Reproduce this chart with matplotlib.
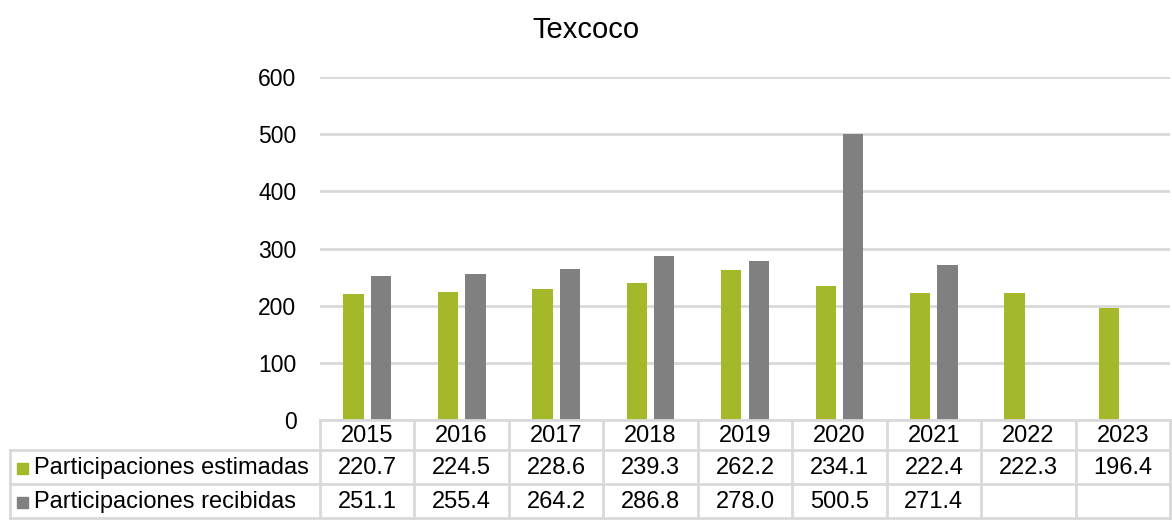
import matplotlib
matplotlib.use("Agg")
import matplotlib.pyplot as plt
import numpy as np
from matplotlib.transforms import blended_transform_factory
from matplotlib.lines import Line2D
from matplotlib.patches import Rectangle

plt.rcParams['font.family'] = ['Liberation Sans', 'DejaVu Sans']

years = ["2015", "2016", "2017", "2018", "2019", "2020", "2021", "2022", "2023"]
estimadas = [220.7, 224.5, 228.6, 239.3, 262.2, 234.1, 222.4, 222.3, 196.4]
recibidas = [251.1, 255.4, 264.2, 286.8, 278.0, 500.5, 271.4, None, None]
series_names = ["Participaciones estimadas", "Participaciones recibidas"]
colors = ["#A5B82A", "#808080"]
yticks = [0, 100, 200, 300, 400, 500, 600]

W, H = 1172, 520
fig = plt.figure(figsize=(W / 100, H / 100), dpi=100)

def fy(px):
    return 1 - px / H

def fx(px):
    return px / W

ax_left, ax_right = 320, 1170
ax_top, ax_bot = 77, 420
ax = fig.add_axes([fx(ax_left), fy(ax_bot), fx(ax_right - ax_left), fy(ax_top) - fy(ax_bot)])

x = np.arange(len(years))
bw = 0.215
off = 0.145
ax.bar(x - off, estimadas, width=bw, color=colors[0], zorder=3)
rv = [v if v is not None else 0 for v in recibidas]
mask = [v is not None for v in recibidas]
ax.bar(x[mask] + off, np.array(rv)[mask], width=bw, color=colors[1], zorder=3)

ax.set_xlim(-0.5, len(years) - 0.5)
ax.set_ylim(0, 600)
ax.set_yticks(yticks)
ax.set_yticklabels([str(t) for t in yticks], fontsize=16.5, color="#000000")
ax.tick_params(axis='y', length=0, pad=17)
ax.set_xticks([])
for s in ax.spines.values():
    s.set_visible(False)
ax.grid(axis='y', color="#D9D9D9", linewidth=2, zorder=0)
ax.set_axisbelow(True)

fig.text(0.5, fy(30), "Texcoco", ha='center', va='center', fontsize=21)

# data table
tr = blended_transform_factory(ax.transData, fig.transFigure)
lc = "#D9D9D9"
lw = 2
row_tops = [420, 450, 484, 518]
left_edge = 10
n = len(years)
fig.add_artist(Line2D([-0.5, n - 0.5], [fy(420), fy(420)], transform=tr, color=lc, lw=lw, clip_on=False))
for yy in row_tops[1:]:
    fig.add_artist(Line2D([fx(left_edge), fx(ax_right)], [fy(yy), fy(yy)], transform=fig.transFigure,
                          color=lc, lw=lw, clip_on=False))
for k in range(n + 1):
    fig.add_artist(Line2D([k - 0.5, k - 0.5], [fy(420), fy(518)], transform=tr, color=lc, lw=lw, clip_on=False))
fig.add_artist(Line2D([fx(left_edge), fx(left_edge)], [fy(450), fy(518)], transform=fig.transFigure,
                      color=lc, lw=lw, clip_on=False))

fs = 17
for i, yr in enumerate(years):
    fig.text(i, fy(436), yr, transform=tr, ha='center', va='center', fontsize=fs)
rows = [estimadas, recibidas]
row_centers = [468, 502]
for r, (vals, yc) in enumerate(zip(rows, row_centers)):
    for i, v in enumerate(vals):
        if v is not None:
            fig.text(i, fy(yc), f"{v:.1f}", transform=tr, ha='center', va='center', fontsize=fs)
    fig.add_artist(Rectangle((fx(17), fy(yc + 5.5)), fx(11), fy(yc - 5.5) - fy(yc + 5.5), transform=fig.transFigure,
                             color=colors[r]))
    fig.text(fx(34), fy(yc), series_names[r], ha='left', va='center', fontsize=fs)

fig.savefig("out.png", dpi=100)
